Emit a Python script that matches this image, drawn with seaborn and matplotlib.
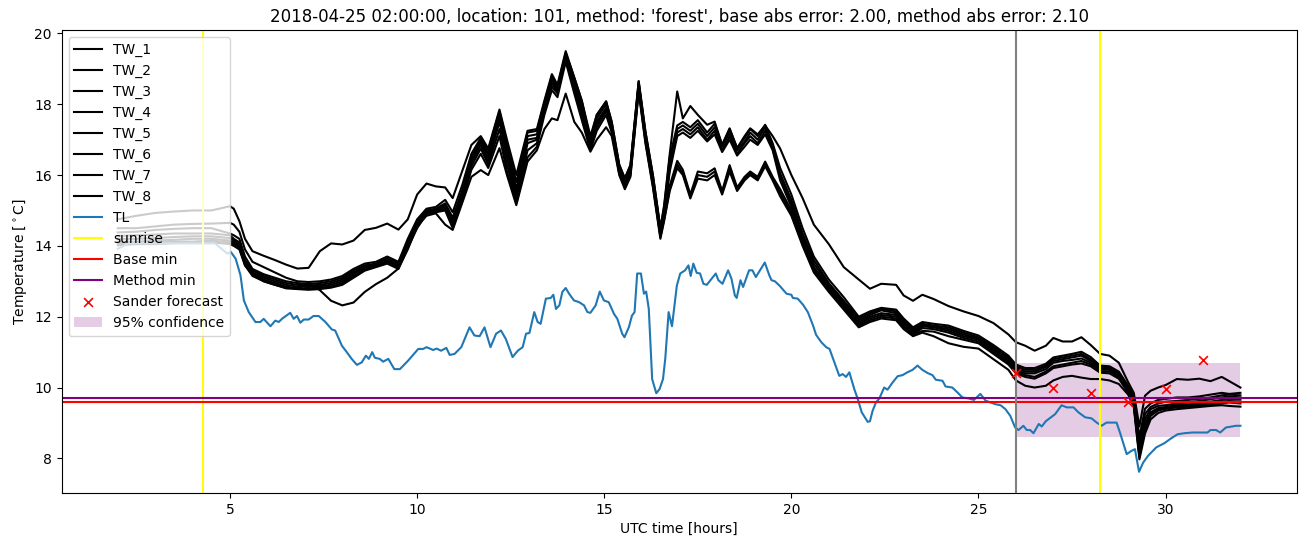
import matplotlib
matplotlib.use("Agg")
import matplotlib.pyplot as plt
import seaborn as sns

# ---- data -------------------------------------------------------------
tw_time = [
    2.0, 2.5, 3.0, 3.5, 4.0, 4.5, 5.0, 5.1, 5.25, 5.4,
    5.6, 5.9, 6.2, 6.5, 6.8, 7.1, 7.4, 7.7, 8.0, 8.3,
    8.6, 8.9, 9.2, 9.5, 9.75, 10.0, 10.25, 10.5, 10.75, 10.95,
    11.2, 11.45, 11.7, 11.9, 12.2, 12.4, 12.65, 12.95, 13.2, 13.4,
    13.6, 13.75, 13.97, 14.2, 14.4, 14.63, 14.8, 15.05, 15.2, 15.4,
    15.55, 15.7, 15.92, 16.1, 16.3, 16.5, 16.6, 16.75, 16.95, 17.1,
    17.3, 17.5, 17.75, 17.95, 18.15, 18.35, 18.55, 18.75, 18.9, 19.1,
    19.3, 19.5, 19.7, 20.0, 20.3, 20.6, 21.0, 21.4, 21.8, 22.1,
    22.4, 22.8, 23.0, 23.25, 23.5, 23.8, 24.2, 24.6, 25.0, 25.4,
    25.8, 26.0, 26.25, 26.5, 26.8, 27.0, 27.25, 27.5, 27.75, 28.0,
    28.25, 28.5, 28.75, 29.0, 29.15, 29.3, 29.45, 29.6, 29.8, 30.0,
    30.3, 30.6, 30.9, 31.2, 31.5, 31.7, 32.0,
]

tw_1 = [
    14.75, 14.85, 14.93, 14.97, 15.00, 15.00, 15.12, 15.05, 14.70, 14.20,
    13.85, 13.72, 13.60, 13.47, 13.36, 13.38, 13.85, 14.07, 14.04, 14.15,
    14.45, 14.51, 14.63, 14.46, 14.75, 15.45, 15.76, 15.68, 15.65, 15.35,
    16.10, 16.85, 17.10, 16.75, 17.85, 17.00, 16.00, 17.25, 17.30, 18.10,
    18.85, 18.55, 19.50, 18.75, 18.10, 17.10, 17.70, 18.08, 17.50, 16.28,
    15.91, 16.28, 18.65, 17.23, 16.00, 14.49, 15.15, 16.60, 18.36, 17.60,
    17.95, 17.70, 17.42, 17.51, 16.85, 17.32, 16.76, 17.10, 17.32, 17.15,
    17.40, 17.10, 16.75, 16.00, 15.35, 14.60, 14.05, 13.40, 13.05, 12.79,
    12.93, 12.90, 12.60, 12.45, 12.62, 12.50, 12.30, 12.15, 12.02, 11.82,
    11.50, 11.28, 11.18, 11.04, 11.18, 11.40, 11.30, 11.30, 11.42, 11.20,
    10.95, 10.90, 10.70, 10.15, 9.85, 8.90, 9.77, 9.91, 10.00, 10.07,
    10.24, 10.22, 10.25, 10.18, 10.30, 10.18, 10.00,
]
tw_2 = [
    14.50, 14.50, 14.55, 14.60, 14.62, 14.63, 14.65, 14.60, 14.40, 13.90,
    13.55, 13.40, 13.25, 13.10, 13.00, 12.98, 13.00, 13.05, 13.15, 13.35,
    13.50, 13.55, 13.70, 13.55, 14.20, 14.75, 15.05, 15.10, 15.30, 14.95,
    15.70, 16.60, 17.05, 16.70, 17.80, 16.90, 15.80, 17.20, 17.25, 18.05,
    18.80, 18.50, 19.45, 18.75, 18.10, 17.00, 17.70, 18.08, 17.50, 16.30,
    15.90, 16.28, 18.65, 17.23, 16.00, 14.50, 15.10, 16.50, 17.40, 17.50,
    17.35, 17.55, 17.20, 17.45, 16.85, 17.30, 16.76, 17.05, 17.30, 17.10,
    17.42, 16.90, 16.20, 15.45, 14.50, 13.70, 13.05, 12.55, 12.00, 12.15,
    12.25, 12.20, 11.95, 11.70, 11.85, 11.80, 11.75, 11.60, 11.47, 11.20,
    10.90, 10.65, 10.55, 10.55, 10.67, 10.85, 10.90, 10.95, 11.01, 10.86,
    10.62, 10.60, 10.45, 10.05, 9.75, 8.60, 9.40, 9.55, 9.65, 9.68,
    9.72, 9.72, 9.75, 9.80, 9.85, 9.82, 9.85,
]
tw_3 = [
    14.38, 14.40, 14.45, 14.48, 14.50, 14.50, 14.35, 14.30, 14.20, 13.70,
    13.35, 13.20, 13.10, 13.00, 12.95, 12.92, 12.95, 13.00, 13.10, 13.30,
    13.45, 13.50, 13.65, 13.50, 14.15, 14.70, 15.00, 15.05, 15.20, 14.80,
    15.55, 16.50, 17.00, 16.60, 17.70, 16.80, 15.60, 17.10, 17.15, 18.00,
    18.75, 18.45, 19.42, 18.70, 17.95, 16.95, 17.60, 18.00, 17.40, 16.25,
    15.85, 16.20, 18.60, 17.15, 15.90, 14.45, 15.00, 16.30, 17.30, 17.40,
    17.25, 17.45, 17.10, 17.35, 16.80, 17.20, 16.70, 16.95, 17.20, 17.00,
    17.35, 16.80, 16.05, 15.30, 14.35, 13.60, 12.95, 12.45, 11.95, 12.10,
    12.22, 12.15, 11.90, 11.65, 11.80, 11.75, 11.70, 11.55, 11.42, 11.15,
    10.85, 10.60, 10.50, 10.50, 10.62, 10.80, 10.85, 10.90, 10.95, 10.80,
    10.58, 10.57, 10.40, 10.00, 9.70, 8.40, 9.25, 9.45, 9.55, 9.60,
    9.62, 9.65, 9.68, 9.72, 9.78, 9.80, 9.78,
]
tw_4 = [
    14.28, 14.30, 14.32, 14.35, 14.35, 14.35, 14.30, 14.20, 14.10, 13.60,
    13.30, 13.15, 13.05, 12.95, 12.90, 12.88, 12.90, 12.95, 13.05, 13.25,
    13.40, 13.48, 13.60, 13.45, 14.10, 14.65, 14.98, 15.03, 15.15, 14.70,
    15.45, 16.40, 16.95, 16.50, 17.60, 16.70, 15.50, 17.00, 17.05, 17.95,
    18.70, 18.40, 19.38, 18.60, 17.85, 16.90, 17.50, 17.90, 17.35, 16.20,
    15.80, 16.15, 18.55, 17.10, 15.85, 14.40, 14.90, 16.20, 17.20, 17.30,
    17.15, 17.35, 17.00, 17.25, 16.70, 17.10, 16.60, 16.90, 17.10, 16.90,
    17.25, 16.75, 15.95, 15.20, 14.25, 13.50, 12.90, 12.40, 11.90, 12.05,
    12.18, 12.10, 11.85, 11.60, 11.75, 11.72, 11.65, 11.50, 11.38, 11.10,
    10.80, 10.55, 10.45, 10.45, 10.58, 10.75, 10.80, 10.85, 10.90, 10.75,
    10.55, 10.53, 10.35, 9.96, 9.65, 8.30, 9.11, 9.39, 9.48, 9.50,
    9.55, 9.58, 9.62, 9.67, 9.72, 9.75, 9.72,
]
tw_5 = [
    14.20, 14.20, 14.22, 14.25, 14.27, 14.27, 14.22, 14.15, 14.05, 13.55,
    13.25, 13.10, 13.00, 12.90, 12.85, 12.84, 12.86, 12.90, 13.00, 13.20,
    13.38, 13.45, 13.58, 13.42, 14.05, 14.60, 14.95, 15.00, 15.10, 14.60,
    15.40, 16.35, 16.85, 16.40, 17.50, 16.50, 15.40, 16.90, 17.00, 17.90,
    18.60, 18.35, 19.35, 18.50, 17.75, 16.85, 17.45, 17.85, 17.30, 16.15,
    15.75, 16.10, 18.50, 17.05, 15.80, 14.35, 14.85, 16.10, 17.10, 17.20,
    17.05, 17.25, 16.95, 17.15, 16.65, 17.00, 16.55, 16.80, 17.00, 16.85,
    17.15, 16.70, 15.85, 15.10, 14.15, 13.40, 12.85, 12.35, 11.85, 12.00,
    12.10, 12.05, 11.80, 11.55, 11.73, 11.70, 11.60, 11.45, 11.35, 11.05,
    10.75, 10.50, 10.40, 10.40, 10.52, 10.70, 10.75, 10.78, 10.82, 10.70,
    10.50, 10.50, 10.33, 9.92, 9.60, 8.20, 9.00, 9.30, 9.42, 9.45,
    9.50, 9.52, 9.56, 9.60, 9.65, 9.68, 9.66,
]
tw_6 = [
    14.12, 14.12, 14.15, 14.17, 14.20, 14.20, 14.15, 14.10, 14.00, 13.50,
    13.20, 13.05, 12.95, 12.85, 12.80, 12.80, 12.82, 12.85, 12.95, 13.15,
    13.33, 13.42, 13.55, 13.40, 14.00, 14.55, 14.92, 14.97, 15.05, 14.55,
    15.30, 16.25, 16.75, 16.30, 17.30, 16.30, 15.30, 16.70, 16.90, 17.80,
    18.50, 18.30, 19.30, 18.40, 17.65, 16.75, 17.35, 17.80, 17.25, 16.10,
    15.70, 16.05, 18.45, 17.00, 15.75, 14.30, 14.80, 15.70, 16.40, 16.15,
    15.45, 16.10, 16.05, 16.19, 15.55, 16.28, 15.65, 15.95, 16.10, 15.95,
    16.38, 15.95, 15.60, 15.00, 14.10, 13.35, 12.80, 12.30, 11.80, 11.95,
    12.05, 12.00, 11.75, 11.50, 11.68, 11.65, 11.55, 11.40, 11.30, 11.00,
    10.70, 10.45, 10.35, 10.30, 10.45, 10.60, 10.65, 10.70, 10.75, 10.65,
    10.45, 10.45, 10.30, 9.90, 9.55, 8.10, 8.90, 9.25, 9.38, 9.42,
    9.48, 9.50, 9.52, 9.55, 9.60, 9.62, 9.60,
]
tw_7 = [
    14.08, 14.10, 14.10, 14.12, 14.12, 14.15, 14.10, 14.05, 13.95, 13.45,
    13.20, 13.00, 12.90, 12.80, 12.78, 12.76, 12.78, 12.82, 12.90, 13.10,
    13.30, 13.40, 13.50, 13.35, 13.95, 14.50, 14.90, 14.95, 15.00, 14.50,
    15.25, 16.15, 16.60, 16.20, 17.10, 16.10, 15.20, 16.50, 16.80, 17.70,
    18.40, 18.20, 19.20, 18.30, 17.55, 16.70, 17.25, 17.70, 17.20, 16.05,
    15.65, 16.00, 18.40, 16.95, 15.70, 14.25, 14.75, 15.60, 16.30, 16.05,
    15.40, 16.00, 15.95, 16.10, 15.50, 16.20, 15.60, 15.90, 16.05, 15.90,
    16.30, 15.90, 15.50, 14.90, 14.05, 13.30, 12.75, 12.25, 11.75, 11.90,
    12.00, 11.95, 11.70, 11.48, 11.60, 11.58, 11.45, 11.35, 11.25, 10.95,
    10.65, 10.40, 10.30, 10.25, 10.40, 10.55, 10.60, 10.65, 10.68, 10.60,
    10.42, 10.40, 10.25, 9.85, 9.50, 8.05, 8.80, 9.20, 9.35, 9.40,
    9.44, 9.46, 9.48, 9.50, 9.55, 9.58, 9.55,
]
tw_8 = [
    14.02, 14.05, 14.05, 14.08, 14.10, 14.10, 14.05, 14.00, 13.90, 13.45,
    13.15, 13.00, 12.90, 12.82, 12.80, 12.95, 12.75, 12.45, 12.32, 12.40,
    12.70, 12.92, 13.10, 13.36, 13.90, 14.55, 14.85, 14.92, 14.60, 14.45,
    15.20, 15.95, 16.14, 16.00, 16.76, 16.00, 15.15, 16.38, 16.70, 17.30,
    17.60, 17.55, 18.30, 17.50, 17.20, 16.66, 17.00, 17.35, 17.10, 16.00,
    15.60, 15.95, 18.35, 16.90, 15.65, 14.20, 14.70, 15.55, 16.20, 16.00,
    15.34, 15.90, 15.85, 16.00, 15.45, 16.10, 15.55, 15.85, 16.00, 15.85,
    16.25, 15.85, 15.40, 14.85, 14.00, 13.25, 12.70, 12.20, 11.70, 11.85,
    11.95, 11.90, 11.65, 11.45, 11.55, 11.45, 11.25, 11.15, 11.10, 10.80,
    10.50, 10.20, 10.05, 10.00, 10.05, 10.20, 10.30, 10.33, 10.28, 10.24,
    10.24, 10.20, 10.10, 9.80, 9.45, 7.97, 8.70, 9.10, 9.28, 9.35,
    9.39, 9.42, 9.45, 9.48, 9.50, 9.48, 9.46,
]

tl_time = [
    2.0, 2.3, 3.0, 4.0, 4.6, 4.93, 5.02, 5.15, 5.28, 5.37,
    5.5, 5.68, 5.81, 5.9, 6.08, 6.21, 6.3, 6.4, 6.61, 6.7,
    6.79, 6.88, 6.97, 7.1, 7.23, 7.37, 7.55, 7.72, 7.81, 7.99,
    8.12, 8.25, 8.39, 8.52, 8.63, 8.71, 8.8, 8.87, 9.0, 9.09,
    9.23, 9.39, 9.54, 9.76, 10.03, 10.16, 10.25, 10.43, 10.52, 10.64,
    10.78, 10.87, 11.0, 11.18, 11.4, 11.53, 11.67, 11.8, 11.96, 12.11,
    12.24, 12.37, 12.55, 12.69, 12.82, 12.91, 13.0, 13.13, 13.22, 13.3,
    13.44, 13.57, 13.64, 13.71, 13.8, 13.88, 13.97, 14.06, 14.19, 14.33,
    14.46, 14.55, 14.63, 14.77, 14.88, 14.99, 15.12, 15.26, 15.35, 15.48,
    15.54, 15.66, 15.74, 15.81, 15.88, 15.98, 16.06, 16.12, 16.19, 16.28,
    16.39, 16.48, 16.57, 16.63, 16.72, 16.81, 16.94, 17.03, 17.16, 17.25,
    17.31, 17.38, 17.47, 17.56, 17.65, 17.74, 17.98, 18.05, 18.16, 18.31,
    18.4, 18.49, 18.54, 18.64, 18.71, 18.87, 18.96, 19.05, 19.29, 19.41,
    19.47, 19.56, 19.69, 19.87, 20.0, 20.04, 20.17, 20.31, 20.44, 20.58,
    20.66, 20.8, 20.93, 21.02, 21.15, 21.28, 21.37, 21.46, 21.55, 21.68,
    21.77, 21.88, 22.04, 22.1, 22.17, 22.26, 22.35, 22.48, 22.57, 22.71,
    22.84, 22.97, 23.1, 23.24, 23.37, 23.5, 23.64, 23.77, 23.86, 24.04,
    24.12, 24.3, 24.44, 24.57, 24.74, 24.88, 25.05, 25.19, 25.32, 25.45,
    25.59, 25.72, 25.85, 25.98, 26.07, 26.2, 26.29, 26.38, 26.47, 26.61,
    26.69, 26.8, 27.05, 27.22, 27.36, 27.54, 27.67, 27.85, 28.02, 28.16,
    28.29, 28.42, 28.69, 28.78, 28.96, 29.07, 29.18, 29.29, 29.4, 29.53,
    29.66, 29.75, 29.97, 30.14, 30.32, 30.5, 30.72, 31.12, 31.2, 31.35,
    31.46, 31.61, 31.88, 32.0,
]
tl_values = [
    13.92, 14.07, 14.07, 14.07, 14.07, 13.78, 13.83, 13.64, 13.17, 12.46,
    12.13, 11.85, 11.85, 11.94, 11.73, 11.89, 11.85, 11.95, 12.11, 11.94,
    12.02, 11.83, 11.92, 11.92, 12.02, 12.02, 11.85, 11.64, 11.61, 11.18,
    11.00, 10.81, 10.64, 10.71, 10.90, 10.81, 11.00, 10.84, 10.81, 10.73,
    10.81, 10.52, 10.52, 10.76, 11.09, 11.09, 11.14, 11.06, 11.10, 11.04,
    11.12, 10.92, 10.95, 11.14, 11.70, 11.47, 11.45, 11.70, 11.14, 11.52,
    11.61, 11.37, 10.86, 11.04, 11.14, 11.52, 11.54, 12.13, 11.85, 11.80,
    12.51, 12.53, 12.62, 12.22, 12.32, 12.70, 12.81, 12.65, 12.46, 12.41,
    12.32, 12.13, 12.11, 12.32, 12.71, 12.46, 12.41, 12.08, 11.94, 11.52,
    11.42, 11.71, 12.03, 12.13, 13.22, 13.22, 12.65, 12.71, 12.22, 10.24,
    9.84, 9.96, 10.24, 10.81, 12.13, 11.73, 12.88, 13.22, 13.31, 13.45,
    13.15, 13.50, 13.24, 13.22, 12.93, 12.90, 13.22, 13.03, 12.93, 13.31,
    13.07, 12.60, 12.53, 13.03, 12.84, 13.31, 13.31, 13.12, 13.53, 13.17,
    13.03, 13.00, 12.87, 12.65, 12.62, 12.53, 12.51, 12.34, 12.13, 11.75,
    11.49, 11.28, 11.14, 11.09, 10.71, 10.33, 10.38, 10.30, 10.43, 9.96,
    9.69, 9.30, 9.03, 9.05, 9.34, 9.58, 9.69, 10.00, 9.94, 10.15,
    10.32, 10.35, 10.43, 10.50, 10.62, 10.50, 10.41, 10.35, 10.22, 10.19,
    10.03, 10.00, 9.86, 9.72, 9.69, 9.65, 9.82, 9.63, 9.58, 9.53,
    9.50, 9.39, 9.20, 8.87, 8.80, 8.92, 8.80, 8.80, 8.71, 8.97,
    8.90, 9.05, 9.25, 9.50, 9.44, 9.44, 9.30, 9.16, 9.13, 9.01,
    8.92, 9.01, 9.01, 8.73, 8.12, 8.20, 8.26, 7.62, 7.88, 8.07,
    8.21, 8.31, 8.43, 8.56, 8.68, 8.71, 8.73, 8.73, 8.80, 8.80,
    8.73, 8.87, 8.92, 8.92,
]

sunrise_times = [4.27, 28.25]
prediction_time = 26.0
base_min = 9.6
method_min = 9.7
forecast_time = [26, 27, 28, 29, 30, 31]
forecast_values = [10.41, 9.98, 9.84, 9.60, 9.96, 10.78]
conf_time = [26, 32]
conf_lower = [8.6, 8.6]
conf_upper = [10.7, 10.7]

title = ("2018-04-25 02:00:00, location: 101, method: 'forest', "
         "base abs error: 2.00, method abs error: 2.10")

# ---- plot ---------------------------------------------------------------
fig, ax = plt.subplots(figsize=(13.11, 5.47), dpi=100)
fig.subplots_adjust(left=0.047, right=0.989, bottom=0.099, top=0.945)

tw_series = [tw_1, tw_2, tw_3, tw_4, tw_5, tw_6, tw_7, tw_8]
for i, values in enumerate(tw_series, start=1):
    sns.lineplot(x=tw_time, y=values, color="black", label=f"TW_{i}",
                 linewidth=1.5, ax=ax)
sns.lineplot(x=tl_time, y=tl_values, color="tab:blue", label="TL",
             linewidth=1.5, ax=ax)

for i, t in enumerate(sunrise_times):
    ax.axvline(t, color="yellow", label="sunrise" if i == 0 else None)
ax.axhline(base_min, color="red", label="Base min")
ax.axhline(method_min, color="purple", label="Method min")
ax.axvline(prediction_time, color="grey")

sns.scatterplot(x=forecast_time, y=forecast_values, marker="x", color="red",
                s=40, linewidth=1.2, label="Sander forecast", zorder=3, ax=ax)
ax.fill_between(conf_time, conf_lower, conf_upper, color="purple",
                alpha=0.2, linewidth=0, label="95% confidence")

ax.set_title(title)
ax.set_xlabel("UTC time [hours]")
ax.set_ylabel(r"Temperature [$^\circ$C]")
ax.legend(loc="upper left")

fig.savefig("out.png", dpi=100)
